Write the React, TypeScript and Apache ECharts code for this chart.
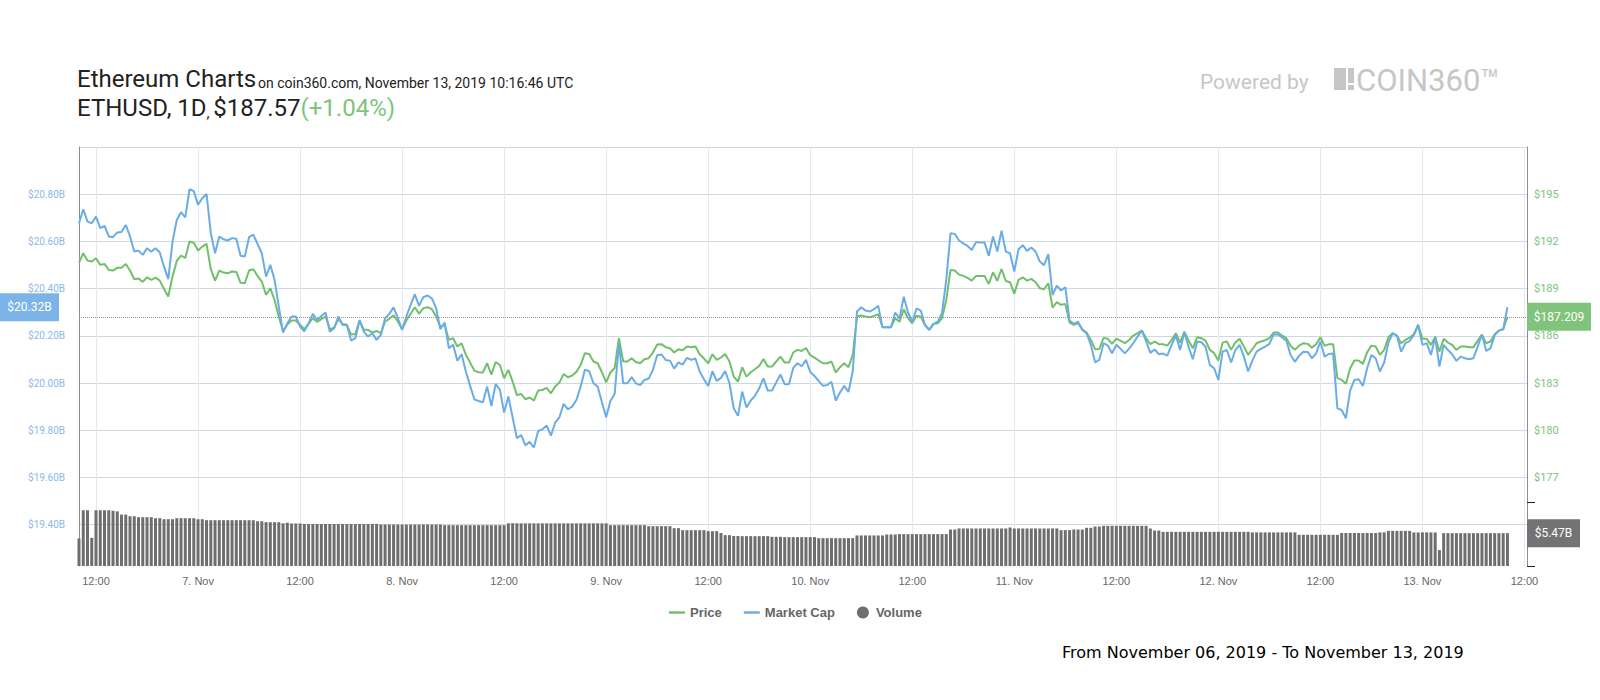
import React, { useEffect, useRef } from "react";
import * as echarts from "echarts";

// time axis: hours since 6 Nov 2019 00:00 UTC, one point every 30 minutes
const START_HOUR = 10;
const STEP_HOURS = 0.5;
const X_MIN = 10;
const X_MAX = 180.3;

const xTickHours = [12, 24, 36, 48, 60, 72, 84, 96, 108, 120, 132, 144, 156, 168, 180];
const xTickLabels = ["12:00", "7. Nov", "12:00", "8. Nov", "12:00", "9. Nov", "12:00", "10. Nov", "12:00", "11. Nov", "12:00", "12. Nov", "12:00", "13. Nov", "12:00"];

const mcTickValues = [19.4, 19.6, 19.8, 20.0, 20.2, 20.4, 20.6, 20.8];
const mcGridValues = [19.4, 19.6, 19.8, 20.0, 20.2, 20.4, 20.6, 20.8, 21.0];
const priceTickValues = [177, 180, 183, 186, 189, 192, 195];

// Price (USD)
const priceValues = [
  190.66, 191.25, 190.78, 190.72, 190.93, 190.51, 190.57, 190.19, 190.15, 190.32,
  190.32, 190.57, 190.15, 189.60, 189.64, 189.43, 189.72, 189.56, 189.70, 189.51,
  188.98, 188.50, 189.77, 190.76, 191.10, 190.95, 191.99, 191.91, 191.42, 191.67,
  191.84, 190.25, 189.51, 190.15, 190.02, 189.98, 190.09, 190.06, 189.37, 189.34,
  190.15, 190.23, 189.81, 189.45, 188.60, 189.03, 188.28, 187.23, 186.29, 186.72,
  186.97, 186.97, 186.70, 186.42, 186.76, 187.12, 186.89, 187.06, 187.23, 186.42,
  186.51, 187.06, 186.76, 186.70, 186.08, 186.12, 186.97, 186.38,
  186.38, 186.21, 186.31, 186.17, 186.91, 187.08, 187.31, 186.91, 186.42, 186.97,
  187.40, 187.82, 187.40, 187.76, 187.82, 187.69, 187.23, 186.59, 186.70, 185.74,
  185.85, 185.32, 185.53, 184.79, 184.30, 183.79, 183.69, 183.67, 184.26, 183.54,
  184.34, 184.15, 183.31, 183.84, 183.09, 182.23, 182.31, 181.97, 182.08, 181.89,
  182.52, 182.56, 182.69, 182.35, 182.78, 183.03, 183.58, 183.37, 183.48, 183.71,
  184.15, 184.90, 184.85, 184.37, 184.26, 183.69, 183.05, 183.67, 183.96, 185.85,
  184.37, 184.37, 184.58, 184.34, 184.26, 184.51, 184.58,
  184.94, 185.45, 185.47, 185.28, 185.21, 184.94, 185.15, 185.09, 185.32, 185.28,
  185.32, 184.83, 184.56, 184.26, 184.83, 184.47, 184.62, 184.85, 184.37, 183.41,
  183.09, 184.01, 183.41, 183.69, 183.88, 184.09, 184.53, 184.05, 184.05, 184.37,
  184.68, 184.30, 184.30, 184.94, 185.11, 185.04, 185.23, 184.77, 184.62, 184.43,
  184.26, 184.26, 184.37, 183.67, 184.01, 184.26, 184.01, 184.79, 187.23, 187.29,
  187.23, 187.18, 187.27, 187.37, 186.55, 186.55, 186.55, 187.12, 186.89, 187.69,
  187.12, 186.80, 187.27, 187.23, 186.67, 186.38, 186.76,
  186.80, 187.12, 188.28, 190.19, 190.15, 189.89, 189.81, 189.68, 189.51, 189.81,
  189.81, 189.81, 189.30, 190.04, 189.49, 190.25, 189.49, 189.41, 188.67, 189.56,
  189.72, 189.51, 189.62, 189.41, 189.03, 188.96, 189.34, 187.80, 188.14, 187.97,
  188.03, 186.84, 186.70, 186.80, 186.42, 186.21, 185.74, 185.15, 185.17, 185.87,
  185.81, 185.49, 185.83, 185.68, 185.53, 185.74, 186.02, 186.17, 186.34, 185.85,
  185.47, 185.64, 185.47, 185.47, 185.38, 185.74, 186.17, 185.57, 186.27, 185.70,
  185.21, 185.91, 185.85, 185.70, 185.11, 184.90, 184.43,
  185.57, 185.64, 185.11, 185.57, 185.81, 185.32, 184.79, 185.15, 185.53, 185.64,
  185.72, 185.85, 186.21, 186.21, 186.02, 185.85, 185.36, 185.11, 185.38, 185.53,
  185.49, 185.25, 185.47, 185.91, 185.36, 185.47, 185.47, 183.31, 183.20, 182.95,
  183.94, 184.43, 184.43, 184.22, 184.96, 185.38, 185.32, 184.79, 185.11, 185.91,
  186.17, 186.02, 185.53, 185.74, 185.89, 186.10, 186.70, 185.81, 185.81, 185.42,
  185.95, 185.00, 185.81, 185.57, 185.42, 185.11, 185.32, 185.32, 185.28, 185.28,
  185.68, 186.08, 185.53, 185.64, 186.10, 186.34, 186.42, 187.209,
];

// Market cap (billions USD)
const marketCapValues = [
  20.677, 20.736, 20.684, 20.677, 20.705, 20.656, 20.666, 20.621, 20.618, 20.638,
  20.640, 20.670, 20.621, 20.557, 20.561, 20.543, 20.571, 20.556, 20.571, 20.553,
  20.493, 20.440, 20.599, 20.691, 20.724, 20.702, 20.821, 20.813, 20.755, 20.783,
  20.801, 20.635, 20.550, 20.621, 20.609, 20.604, 20.614, 20.611, 20.539, 20.536,
  20.618, 20.629, 20.589, 20.550, 20.451, 20.501, 20.437, 20.324, 20.214, 20.253,
  20.282, 20.282, 20.239, 20.219, 20.253, 20.293, 20.267, 20.284, 20.299, 20.218,
  20.232, 20.282, 20.246, 20.246, 20.180, 20.190, 20.267, 20.218,
  20.197, 20.211, 20.183, 20.204, 20.275, 20.293, 20.321, 20.275, 20.225, 20.282,
  20.331, 20.376, 20.327, 20.364, 20.371, 20.359, 20.317, 20.228, 20.256, 20.147,
  20.162, 20.095, 20.122, 20.049, 19.988, 19.931, 19.924, 19.919, 19.985, 19.903,
  19.996, 19.971, 19.875, 19.943, 19.854, 19.766, 19.780, 19.736, 19.751, 19.727,
  19.797, 19.804, 19.820, 19.777, 19.832, 19.855, 19.912, 19.889, 19.900, 19.928,
  19.985, 20.056, 20.051, 19.999, 19.985, 19.919, 19.855, 19.924, 19.954, 20.169,
  19.999, 19.999, 20.025, 19.999, 19.991, 20.013, 20.019,
  20.056, 20.118, 20.121, 20.098, 20.095, 20.061, 20.088, 20.078, 20.107, 20.098,
  20.104, 20.049, 20.016, 19.988, 20.050, 20.009, 20.022, 20.051, 19.999, 19.893,
  19.861, 19.964, 19.896, 19.926, 19.946, 19.978, 20.020, 19.968, 19.968, 20.002,
  20.036, 19.995, 19.995, 20.064, 20.084, 20.071, 20.098, 20.047, 20.030, 20.009,
  19.988, 19.992, 20.005, 19.926, 19.960, 19.988, 19.962, 20.049, 20.303, 20.321,
  20.307, 20.303, 20.313, 20.327, 20.236, 20.236, 20.236, 20.299, 20.273, 20.366,
  20.299, 20.259, 20.316, 20.307, 20.246, 20.225, 20.251,
  20.260, 20.296, 20.437, 20.635, 20.632, 20.604, 20.592, 20.581, 20.564, 20.597,
  20.595, 20.595, 20.539, 20.621, 20.557, 20.645, 20.557, 20.550, 20.472, 20.567,
  20.584, 20.560, 20.574, 20.557, 20.515, 20.499, 20.546, 20.373, 20.413, 20.392,
  20.406, 20.265, 20.251, 20.260, 20.225, 20.211, 20.162, 20.088, 20.098, 20.169,
  20.159, 20.126, 20.162, 20.145, 20.126, 20.146, 20.169, 20.197, 20.222, 20.178,
  20.128, 20.142, 20.122, 20.125, 20.116, 20.162, 20.203, 20.140, 20.215, 20.154,
  20.101, 20.176, 20.173, 20.154, 20.077, 20.063, 20.013,
  20.133, 20.140, 20.087, 20.140, 20.162, 20.112, 20.049, 20.095, 20.133, 20.145,
  20.154, 20.166, 20.205, 20.207, 20.193, 20.178, 20.119, 20.090, 20.116, 20.133,
  20.132, 20.105, 20.126, 20.176, 20.112, 20.123, 20.125, 19.893, 19.886, 19.851,
  19.968, 20.013, 20.016, 19.988, 20.063, 20.119, 20.105, 20.049, 20.087, 20.171,
  20.211, 20.200, 20.133, 20.169, 20.178, 20.204, 20.246, 20.162, 20.169, 20.119,
  20.194, 20.070, 20.162, 20.140, 20.122, 20.094, 20.112, 20.105, 20.101, 20.105,
  20.154, 20.205, 20.136, 20.147, 20.203, 20.222, 20.228, 20.321,
];

// 24h volume (billions USD)
const volumeValues = [
  4.59, 9.29, 9.29, 4.69, 9.29, 9.29, 9.29, 9.29, 9.2, 9.1,
  8.57, 8.57, 8.29, 8.29, 8.13, 8.13, 8.13, 8.13, 7.96, 7.96,
  7.79, 7.79, 7.79, 7.96, 7.96, 7.96, 7.96, 7.96, 7.79, 7.79,
  7.63, 7.63, 7.63, 7.63, 7.63, 7.63, 7.63, 7.63, 7.63, 7.63,
  7.63, 7.63, 7.46, 7.46, 7.3, 7.3, 7.3, 7.3, 7.1, 7.2,
  7.08, 7.08, 7.08, 7.0, 7.0, 7.0, 7.0, 7.0, 7.0, 7.0,
  7.0, 7.0, 7.0, 7.0, 7.0, 7.0, 7.0, 7.0, 7.0, 7.0,
  7.0, 6.9, 6.9, 6.9, 6.9, 6.9, 6.9, 6.9, 6.9, 6.9,
  6.9, 6.9, 6.9, 6.9, 6.9, 6.9, 6.8, 6.8, 6.8, 6.8,
  6.8, 6.8, 6.8, 6.8, 6.8, 6.8, 6.8, 6.8, 6.8, 6.8,
  6.8, 7.1, 7.1, 7.1, 7.1, 7.1, 7.1, 7.1, 7.1, 7.1,
  7.1, 7.1, 7.1, 7.1, 7.1, 7.1, 7.1, 7.1, 7.1, 7.1,
  7.1, 7.1, 7.1, 7.1, 7.1, 6.8, 6.8, 6.8, 6.8, 6.8,
  6.8, 6.8, 6.8, 6.8, 6.63, 6.63, 6.63, 6.63, 6.63, 6.63,
  6.3, 6.3, 5.97, 5.97, 5.97, 5.97, 5.97, 5.97, 5.8, 5.8,
  5.8, 5.5, 5.14, 5.14, 5.0, 5.0, 4.97, 4.97, 4.97, 4.97,
  4.97, 4.97, 4.97, 4.86, 4.86, 4.86, 4.81, 4.81, 4.81, 4.81,
  4.81, 4.81, 4.81, 4.81, 4.64, 4.64, 4.64, 4.64, 4.64, 4.64,
  4.64, 4.64, 4.64, 5.09, 5.09, 5.09, 5.09, 5.09, 5.09, 5.09,
  5.25, 5.25, 5.25, 5.31, 5.31, 5.31, 5.31, 5.31, 5.31, 5.31,
  5.31, 5.31, 5.31, 5.31, 5.31, 6.08, 6.08, 6.25, 6.25, 6.25,
  6.25, 6.25, 6.25, 6.25, 6.25, 6.25, 6.25, 6.25, 6.25, 6.41,
  6.25, 6.25, 6.25, 6.25, 6.25, 6.25, 6.25, 6.25, 6.25, 6.25,
  6.25, 5.97, 5.97, 5.97, 6.08, 6.08, 6.08, 6.36, 6.36, 6.58,
  6.58, 6.69, 6.69, 6.69, 6.69, 6.69, 6.69, 6.69, 6.69, 6.69,
  6.69, 6.69, 6.25, 5.91, 5.91, 5.69, 5.69, 5.69, 5.69, 5.69,
  5.69, 5.69, 5.69, 5.69, 5.69, 5.69, 5.69, 5.69, 5.69, 5.69,
  5.69, 5.69, 5.69, 5.69, 5.69, 5.69, 5.6, 5.6, 5.6, 5.6,
  5.6, 5.6, 5.6, 5.6, 5.6, 5.6, 5.6, 5.2, 5.2, 5.2,
  5.2, 5.2, 5.2, 5.2, 5.2, 5.2, 5.2, 5.5, 5.5, 5.5,
  5.5, 5.5, 5.5, 5.5, 5.5, 5.5, 5.6, 5.6, 5.85, 5.85,
  5.85, 5.85, 5.85, 5.85, 5.59, 5.59, 5.59, 5.59, 5.59, 5.59,
  2.65, 5.47, 5.47, 5.47, 5.47, 5.47, 5.47, 5.47, 5.47, 5.47,
  5.47, 5.47, 5.47, 5.47, 5.47, 5.47, 5.47,
];

const GREEN = "#72bf6a";
const BLUE = "#6aade6";
const VOL = "#6e6e6e";
const LOGO = "#c6c6c6";
const LINE_ICON = "path://M0,0L16,0L16,2.4L0,2.4Z";

export default function App() {
  const ref = useRef<HTMLDivElement>(null);

  useEffect(() => {
    document.body.style.margin = "0";
    const chart = echarts.init(ref.current as HTMLDivElement, undefined, { renderer: "svg" });

    const hours = priceValues.map((_, i) => START_HOUR + i * STEP_HOURS);
    const priceData = priceValues.map((v, i) => [hours[i], v]);
    const mcData = marketCapValues.map((v, i) => [hours[i], v]);
    const volData = volumeValues.map((v, i) => [hours[i], v]);
    const lastPrice = priceValues[priceValues.length - 1];
    const lastMc = marketCapValues[marketCapValues.length - 1];
    const lastVol = volumeValues[volumeValues.length - 1];

    const gridLeft = 79;
    const gridRight = 73;

    chart.setOption({
      animation: false,
      textStyle: { fontFamily: "Roboto" },
      grid: [
        { left: gridLeft, right: gridRight, top: 147, height: 419 },
        { left: gridLeft, right: gridRight, top: 502, height: 64 },
      ],
      legend: {
        left: 664,
        top: 601,
        itemWidth: 16,
        itemHeight: 12,
        itemGap: 22,
        symbolKeepAspect: true,
        textStyle: { fontFamily: "Liberation Sans", fontWeight: "bold", fontSize: 13, color: "#666" },
        data: [
          { name: "Price", icon: LINE_ICON, itemStyle: { color: GREEN } },
          { name: "Market Cap", icon: LINE_ICON, itemStyle: { color: BLUE } },
          { name: "Volume", icon: "circle", itemStyle: { color: VOL } },
        ],
      },
      xAxis: [
        {
          type: "value",
          gridIndex: 0,
          min: X_MIN,
          max: X_MAX,
          axisLine: { show: false },
          axisTick: { show: false, customValues: xTickHours },
          axisLabel: {
            customValues: xTickHours,
            formatter: (v: number) => xTickLabels[xTickHours.indexOf(Math.round(v))] ?? "",
            color: "#666",
            fontSize: 11,
            fontFamily: "Liberation Sans",
            margin: 9,
          },
          splitLine: { show: true, lineStyle: { color: "#e3e9ef", width: 1 } },
        },
        { type: "value", gridIndex: 1, min: X_MIN, max: X_MAX, show: false },
      ],
      yAxis: [
        {
          type: "value",
          gridIndex: 0,
          position: "left",
          min: 19.225,
          max: 21.0,
          axisLine: { show: true, lineStyle: { color: "#8c8c8c", width: 1 } },
          axisTick: { show: false, customValues: mcGridValues },
          axisLabel: {
            customValues: mcTickValues,
            formatter: (v: number) => "$" + v.toFixed(2) + "B",
            color: "#8ab9e8",
            fontSize: 10,
            fontFamily: "Roboto",
            margin: 14,
          },
          splitLine: { show: true, lineStyle: { color: "#cdd8e2", width: 1 } },
        },
        {
          type: "value",
          gridIndex: 0,
          position: "right",
          min: 171.375,
          max: 198,
          axisLine: { show: true, lineStyle: { color: "#8c8c8c", width: 1 } },
          axisTick: { show: false, customValues: priceTickValues },
          axisLabel: {
            customValues: priceTickValues,
            formatter: (v: number) => "$" + v,
            color: "#7cc47c",
            fontSize: 11,
            fontFamily: "Roboto",
            margin: 7,
          },
          splitLine: { show: false },
        },
        {
          type: "value",
          gridIndex: 1,
          position: "right",
          min: 0,
          max: 10.66,
          interval: 10.66,
          axisLine: { show: false },
          axisTick: { show: true, length: 8, lineStyle: { color: "#222", width: 1 } },
          axisLabel: { show: false },
          splitLine: { show: false },
        },
      ],
      series: [
        {
          name: "Price",
          type: "line",
          xAxisIndex: 0,
          yAxisIndex: 1,
          data: priceData,
          symbol: "none",
          color: GREEN,
          lineStyle: { width: 2, color: GREEN },
          markLine: {
            silent: true,
            symbol: ["none", "none"],
            label: { show: false },
            lineStyle: { type: "dotted", color: "#999", width: 1 },
            data: [{ yAxis: lastPrice }],
          },
          z: 3,
        },
        {
          name: "Market Cap",
          type: "line",
          xAxisIndex: 0,
          yAxisIndex: 0,
          data: mcData,
          symbol: "none",
          color: BLUE,
          lineStyle: { width: 2, color: BLUE },
          z: 4,
        },
        {
          name: "Volume",
          type: "bar",
          xAxisIndex: 1,
          yAxisIndex: 2,
          data: volData,
          barWidth: 3,
          color: VOL,
          itemStyle: { color: VOL },
          z: 2,
        },
      ],
    });

    const yMc = chart.convertToPixel({ yAxisIndex: 0 }, lastMc) as number;
    const yPrice = chart.convertToPixel({ yAxisIndex: 1 }, lastPrice) as number;
    const yVol = chart.convertToPixel({ yAxisIndex: 2 }, lastVol) as number;
    const axisRightX = 1600 - gridRight;

    const box = (x: number, yc: number, w: number, fill: string, text: string) => ({
      type: "group",
      children: [
        { type: "rect", shape: { x, y: yc - 14, width: w, height: 28 }, style: { fill }, z: 10 },
        {
          type: "text",
          x: x + w / 2,
          y: yc,
          style: { text, fill: "#fff", fontSize: 12, fontFamily: "Roboto", align: "center", verticalAlign: "middle" },
          z: 11,
        },
      ],
    });

    chart.setOption({
      graphic: [
        {
          type: "text",
          x: 77,
          y: 91,
          style: { text: "Ethereum Charts", fill: "#222", fontSize: 24, fontFamily: "Roboto", verticalAlign: "bottom" },
        },
        {
          type: "text",
          x: 258,
          y: 90,
          style: {
            text: "on coin360.com, November 13, 2019 10:16:46 UTC",
            fill: "#222",
            fontSize: 14,
            fontFamily: "Roboto",
            verticalAlign: "bottom",
          },
        },
        {
          type: "text",
          x: 77,
          y: 120,
          style: {
            text: "{m|ETHUSD, 1D}{s|, }{m|$187.57}{g|(+1.04%)}",
            verticalAlign: "bottom",
            rich: {
              m: { fontSize: 24, fontFamily: "Roboto", fill: "#222", verticalAlign: "bottom" },
              s: { fontSize: 15, fontFamily: "Roboto", fill: "#222", verticalAlign: "bottom" },
              g: { fontSize: 24, fontFamily: "Roboto", fill: "#7cc47c", verticalAlign: "bottom" },
            },
          },
        },
        {
          type: "text",
          x: 1200,
          y: 92,
          style: { text: "Powered by", fill: LOGO, fontSize: 21, fontFamily: "Roboto", verticalAlign: "bottom" },
        },
        { type: "rect", shape: { x: 1334, y: 68, width: 12, height: 22 }, style: { fill: LOGO } },
        { type: "rect", shape: { x: 1348, y: 68, width: 6, height: 15 }, style: { fill: LOGO } },
        { type: "rect", shape: { x: 1348, y: 85, width: 6, height: 5 }, style: { fill: LOGO } },
        {
          type: "text",
          x: 1356,
          y: 96,
          style: { text: "COIN360™", fill: LOGO, fontSize: 31, fontFamily: "Roboto", verticalAlign: "bottom" },
        },
        {
          type: "text",
          x: 1062,
          y: 652,
          style: {
            text: "From November 06, 2019 - To November 13, 2019",
            fill: "#000",
            fontSize: 16,
            fontFamily: "DejaVu Sans",
            verticalAlign: "middle",
          },
        },
        box(0, yMc, 59, "#7cb4ea", "$" + lastMc.toFixed(2) + "B"),
        box(axisRightX, yPrice, 64, "#80c47c", "$" + lastPrice.toFixed(3)),
        box(axisRightX, yVol, 53, "#737373", "$" + lastVol.toFixed(2) + "B"),
      ],
    });

    return () => chart.dispose();
  }, []);

  return <div ref={ref} style={{ width: 1600, height: 700 }} />;
}
